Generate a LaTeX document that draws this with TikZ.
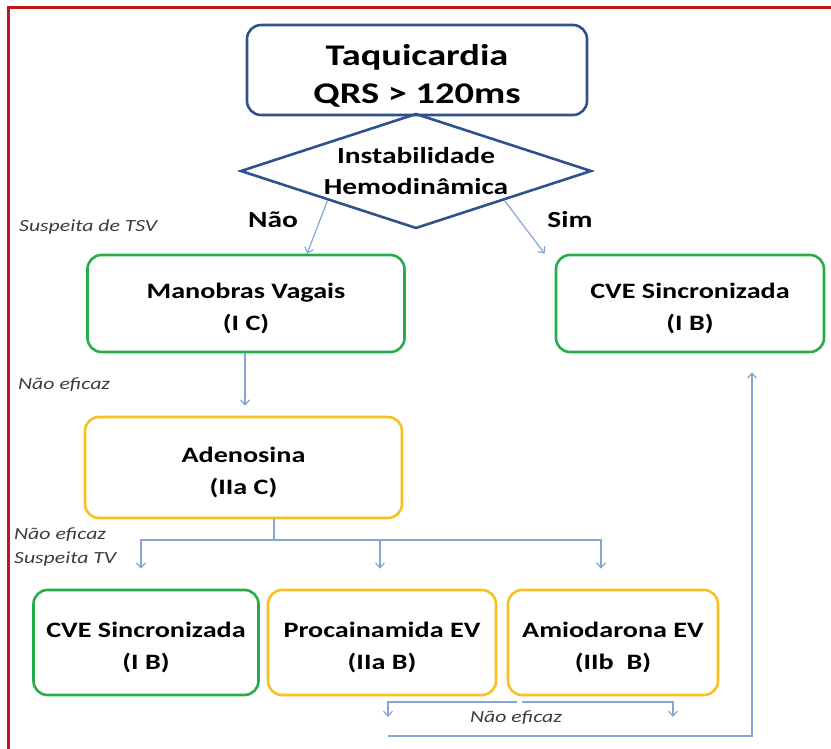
\documentclass[tikz,border=0pt]{standalone}
\usepackage{fontspec}
\setmainfont{Carlito}[FakeStretch=1.28]
\usetikzlibrary{shapes.geometric,arrows.meta}

\definecolor{fluxoazul}{RGB}{47,82,143}
\definecolor{caixaverde}{RGB}{40,172,74}
\definecolor{caixaamarela}{RGB}{250,192,30}
\definecolor{setaazul}{RGB}{135,165,212}
\definecolor{moldura}{RGB}{192,24,24}
\definecolor{notacinza}{RGB}{60,60,60}

\begin{document}
\begin{tikzpicture}[x=1pt,y=-1pt,
    caixa/.style={draw, line width=2.6pt, rounded corners=14pt, align=center,
      font=\bfseries\fontsize{22}{32}\selectfont, inner sep=0pt,
      execute at begin node={\rule{0pt}{57pt}}},
    verde/.style={caixa, draw=caixaverde},
    amarela/.style={caixa, draw=caixaamarela},
    linha/.style={draw=setaazul, line width=1.2pt},
    seta/.style={linha, -{Straight Barb[length=5pt,width=9pt]}},
    rotulo/.style={font=\bfseries\fontsize{23}{26}\selectfont},
    nota/.style={font=\itshape\fontsize{17}{24}\selectfont, text=notacinza, anchor=west, inner sep=0pt}]
    \useasboundingbox (0,0) rectangle (831,749);
    % moldura
    \draw [moldura, line width=3pt] (8,760) -- (8,8) -- (840,8);

    % topo e decisao
    \node [caixa, draw=fluxoazul, minimum width=340pt, minimum height=90pt,
      font=\bfseries\fontsize{30}{38}\selectfont,
      execute at begin node={\rule{0pt}{70pt}}] (taqui) at (417,70) {Taquicardia\\QRS > 120ms};
    \node [diamond, draw=fluxoazul, line width=2.6pt, aspect=3, minimum width=351pt,
      minimum height=115pt, inner sep=0pt, align=center,
      font=\bfseries\fontsize{23}{31}\selectfont] (instab) at (416,171) {Instabilidade\\Hemodinâmica};
    \node [rotulo] (nao) at (273,220) {Não};
    \node [rotulo] (sim) at (570,220) {Sim};

    % segunda linha
    \node [verde, minimum width=317pt, minimum height=97pt] (manobras) at (246,303.5) {Manobras Vagais\\(I C)};
    \node [verde, minimum width=268pt, minimum height=97pt] (cve) at (690,303.5) {CVE Sincronizada\\(I B)};
    \node [amarela, minimum width=317pt, minimum height=101pt] (adenosina) at (243.5,467.5) {Adenosina\\(IIa C)};

    % terceira linha
    \node [verde, minimum width=225pt, minimum height=105pt] (cveb) at (146,642.5) {CVE Sincronizada\\(I B)};
    \node [amarela, minimum width=228pt, minimum height=105pt] (procai) at (382,642.5) {Procainamida EV\\(IIa B)};
    \node [amarela, minimum width=210pt, minimum height=105pt] (amio) at (613,642.5) {Amiodarona EV\\(IIb\ \ B)};

    % notas
    \node [nota] (tsv) at (19,227) {Suspeita de TSV};
    \node [nota] (nef1) at (18,385) {Não eficaz};
    \node [nota, align=left] (nef2) at (14,547) {Não eficaz\\Suspeita TV};
    \node [nota, anchor=center] (nef3) at (516,718) {Não eficaz};

    % ligacoes
    \draw [seta] (instab.south west) -- ([xshift=61pt]manobras.north);
    \draw [seta] (instab.south east) -- ([xshift=-10pt]cve.north west);
    \draw [seta, shorten >=10pt] ([xshift=-1pt]manobras.south) -- ([xshift=1.5pt]adenosina.north);

    \coordinate (ramo) at (274,540);
    \draw [linha] ([xshift=30.5pt]adenosina.south) -- (ramo);
    \draw [seta, shorten >=20pt] (ramo) -| ([xshift=-5pt]cveb.north);
    \draw [seta, shorten >=20pt] (ramo) -| ([xshift=-2pt]procai.north);
    \draw [seta, shorten >=20pt] (ramo) -| ([xshift=-12pt]amio.north);

    \coordinate (falhaA) at (517,702);
    \coordinate (falhaB) at (522,702);
    \coordinate (retorno) at (388,736);
    \coordinate (retornoB) at (673,736);
    \draw [seta] (falhaA) -| ([yshift=19pt]retorno);
    \draw [seta] (falhaB) -| ([yshift=19pt]retornoB);
    \draw [seta] (retorno) -| ([xshift=62pt,yshift=-19pt]cve.south);
\end{tikzpicture}
\end{document}
